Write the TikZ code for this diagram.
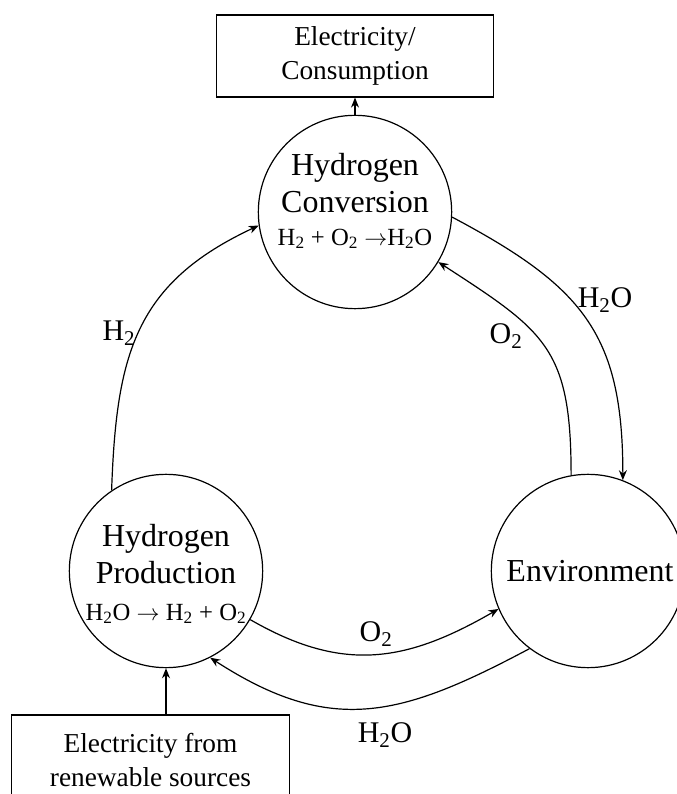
\documentclass[tikz,border=0pt]{standalone}
\usepackage{fontspec}
\setmainfont{Liberation Serif}
\usetikzlibrary{arrows.meta}

\begin{document}
\begin{tikzpicture}[x=0.75pt, y=0.75pt, line width=0.9pt, >={Stealth[length=7.5pt,width=6pt]},
        stage/.style={draw, circle, minimum size=145pt, inner sep=0pt},
        sink/.style={draw, rectangle, minimum width=208pt, inner sep=0pt},
        title/.style={align=center, inner sep=0pt, font=\fontsize{24}{27.5}\selectfont},
        boxtext/.style={font=\fontsize{20.5}{25.5}\selectfont, align=center},
        flow/.style={inner sep=0pt, font=\fontsize{22.5}{26}\selectfont}]
        \useasboundingbox (0,0) rectangle (677,794);

        \def\rx{\fontsize{18.5}{20}\selectfont}

        % stages of the cycle
        \node[stage] (hc) at (355,582) {};
        \node[stage] (hp) at (166,223) {};
        \node[stage] (env) at (588,223) {};

        \node[title] (hctxt) at (355,593) {Hydrogen\\Conversion\\[-3pt]{\rx H\textsubscript{2} + O\textsubscript{2} $\rightarrow$H\textsubscript{2}O}};
        \node[title] (hptxt) at (166,220) {Hydrogen\\Production\\{\rx H\textsubscript{2}O $\rightarrow$ H\textsubscript{2} + O\textsubscript{2}}};
        \node[title] (envtxt) at (590,223) {Environment};

        % source and sink
        \node[sink, boxtext, minimum height=61.5pt] (ec) at (355,738) {Electricity/\\Consumption};
        \node[sink, boxtext, minimum height=67.5pt] (eb) at (150.5,34) {Electricity from\\renewable sources};

        \draw[->] (hc.north) -- (ec.south);
        \draw[->] (eb.north -| hp.south) -- (hp.south);

        % flows
        \draw[->] (hp.124) to[out=88, in=205, looseness=1.15] (hc.188);
        \draw[->] (hc.-3) to[out=-28, in=90, looseness=1.2] (env.69);
        \draw[->] (env.100) to[out=90, in=-33, looseness=1.3] (hc.-31);
        \draw[->] (hp.-30) to[out=-30, in=210, looseness=1.1] (env.203);
        \draw[->] (env.233) to[out=208, in=-33, looseness=1.16] (hp.-63);

        \node[flow] (h2) at (119,461) {H\textsubscript{2}};
        \node[flow] (h2oa) at (605,494) {H\textsubscript{2}O};
        \node[flow] (o2a) at (506,458) {O\textsubscript{2}};
        \node[flow] (o2b) at (376,160) {O\textsubscript{2}};
        \node[flow] (h2ob) at (385,59) {H\textsubscript{2}O};
\end{tikzpicture}
\end{document}
